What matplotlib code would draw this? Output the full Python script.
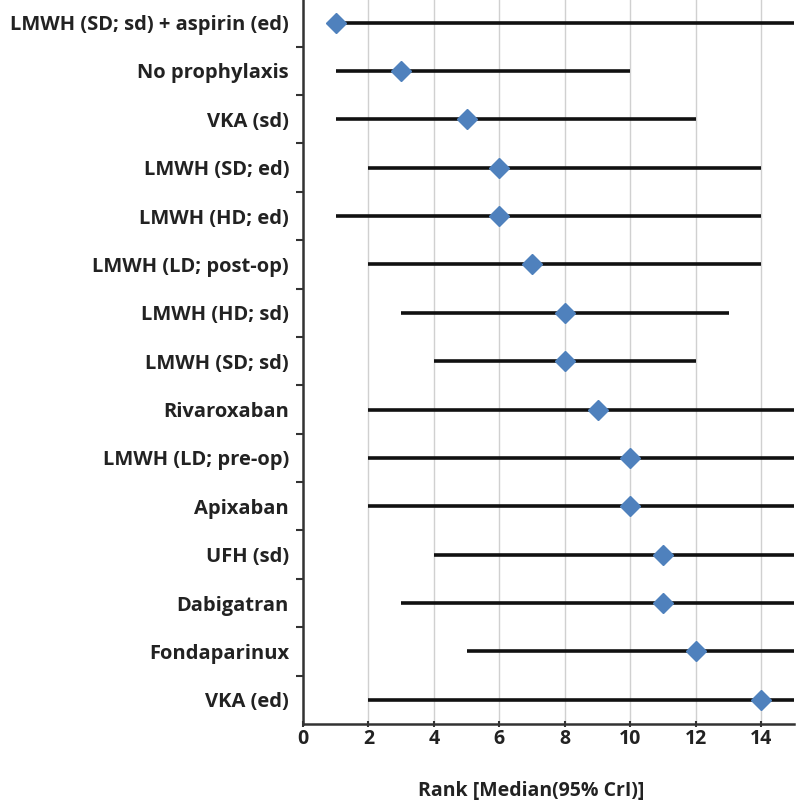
import matplotlib
matplotlib.use("Agg")
import matplotlib.pyplot as plt
import numpy as np

treatments = ["LMWH (SD; sd) + aspirin (ed)", "No prophylaxis", "VKA (sd)", "LMWH (SD; ed)",
              "LMWH (HD; ed)", "LMWH (LD; post-op)", "LMWH (HD; sd)", "LMWH (SD; sd)",
              "Rivaroxaban", "LMWH (LD; pre-op)", "Apixaban", "UFH (sd)", "Dabigatran",
              "Fondaparinux", "VKA (ed)"]
median = [1, 3, 5, 6, 6, 7, 8, 8, 9, 10, 10, 11, 11, 12, 14]
lower = [1, 1, 1, 2, 1, 2, 3, 4, 2, 2, 2, 4, 3, 5, 2]
upper = [15, 10, 12, 14, 14, 14, 13, 12, 15, 15, 15, 15, 15, 15, 15]
xticks = [0, 2, 4, 6, 8, 10, 12, 14]

plt.rcParams['font.family'] = ['Open Sans', 'DejaVu Sans']
fig = plt.figure(figsize=(8, 8.11), dpi=100)
ax = fig.add_axes([303/800, 1 - 724/811, (794-303)/800, 724/811 + 0.005])

y = np.arange(len(treatments))
ax.hlines(y, lower, upper, color='#111111', lw=2.6, zorder=3)
ax.plot(median, y, 'D', color='#4F81BD', ms=10.5, zorder=4, mec='#4F81BD')

ax.set_xlim(0, 15)
ax.set_ylim(14.5, -0.55)
ax.set_xticks(xticks)
ax.set_xticklabels([str(t) for t in xticks], fontweight='bold', fontsize=14, color='#222222')
ax.set_yticks(y)
ax.set_yticklabels(treatments, fontweight='bold', fontsize=14.5, color='#222222')
ax.tick_params(axis='y', length=0, pad=10)
ax.set_yticks(np.arange(-0.5, 14.5, 1), minor=True)
ax.tick_params(axis='y', which='minor', length=5, width=1.5, color='#333333')
ax.tick_params(axis='x', length=5, width=1.5, direction='inout', color='#333333', pad=1)
ax.grid(axis='x', color='#d0d0d0', lw=1)
ax.set_axisbelow(True)
for s in ['top', 'right']:
    ax.spines[s].set_visible(False)
for s in ['left', 'bottom']:
    ax.spines[s].set_linewidth(1.8)
    ax.spines[s].set_color('#333333')

ax.set_xlabel("Rank [Median(95% CrI)]", fontweight='bold', fontsize=14, color='#222222')
ax.xaxis.set_label_coords((531-303)/(794-303), -0.078)

fig.savefig("out.png", dpi=100)
